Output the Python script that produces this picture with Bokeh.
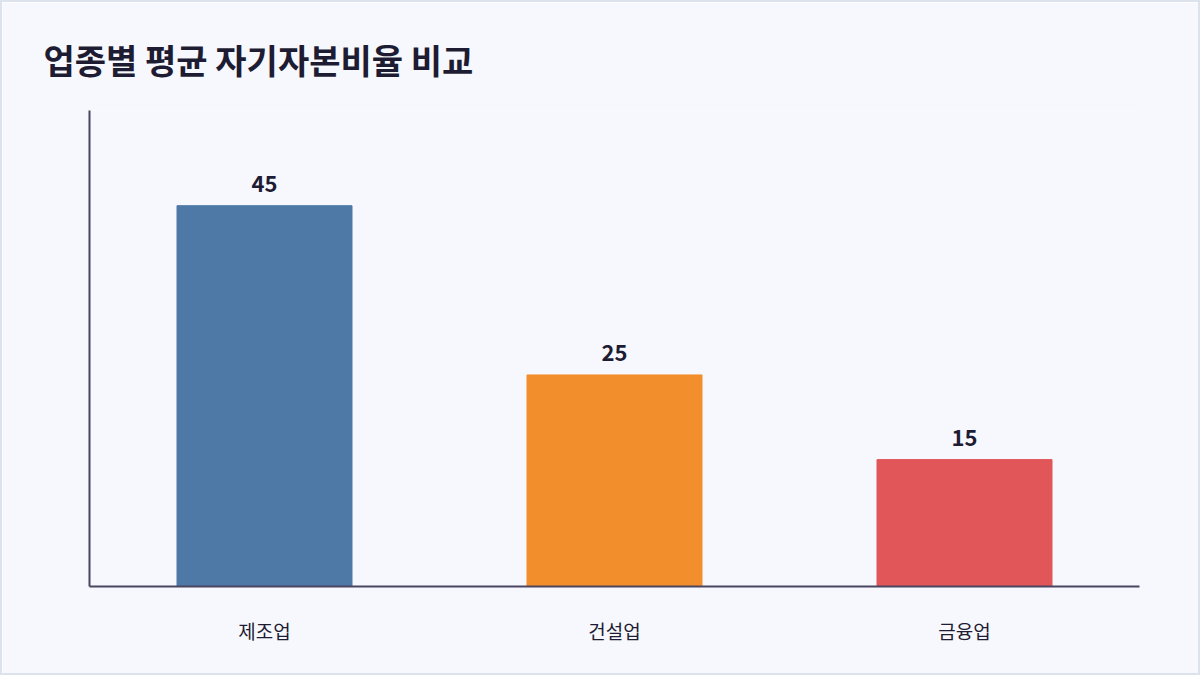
from bokeh.plotting import figure
from bokeh.models import ColumnDataSource, Title, FixedTicker
from bokeh.embed import file_html
from bokeh.resources import INLINE
from bokeh.core.properties import value

categories = ["제조업", "건설업", "금융업"]
ratios = [45, 25, 15]
colors = ["#4e79a7", "#f28e2b", "#e15759"]
title_text = "업종별 평균 자기자본비율 비교"

FONT = "Noto Sans CJK KR"
TEXT = "#1e1c33"
AXIS = "#4a4560"

src = ColumnDataSource(data=dict(cat=categories, val=ratios, color=colors,
                                 label=[str(v) for v in ratios]))

p = figure(x_range=categories, y_range=(0, 56.25), width=1200, height=675,
           output_backend="svg", toolbar_location=None,
           min_border_left=87, min_border_right=63, min_border_top=108,
           min_border_bottom=91)
p.background_fill_color = "#f7f8fd"
p.border_fill_color = "#f7f8fd"
p.outline_line_color = None
p.x_range.range_padding = 0
p.styles = {"border": "2px solid #dde3ec", "box-sizing": "border-box"}

t = Title(text=title_text, text_font=FONT, text_font_size="34px",
          text_font_style="bold", text_color=TEXT, align="left",
          offset=-46, standoff=54)
p.add_layout(t, "above")

p.vbar(x="cat", top="val", width=0.5, color="color", source=src)
p.text(x="cat", y="val", text="label", source=src, text_align="center",
       text_baseline="bottom", y_offset=-14, text_font=value(FONT),
       text_font_size="22px", text_font_style="bold", text_color=TEXT)

p.grid.grid_line_color = None
p.xaxis.axis_line_color = AXIS
p.xaxis.axis_line_width = 2
p.xaxis.major_tick_line_color = None
p.xaxis.minor_tick_line_color = None
p.xaxis.major_label_text_font = FONT
p.xaxis.major_label_text_font_size = "19px"
p.xaxis.major_label_text_color = TEXT
p.xaxis.major_label_standoff = 24

p.yaxis.ticker = FixedTicker(ticks=[])
p.yaxis.axis_line_color = AXIS
p.yaxis.axis_line_width = 2
p.yaxis.major_tick_line_color = None
p.yaxis.minor_tick_line_color = None

open("out.html", "w").write(file_html(p, INLINE))
